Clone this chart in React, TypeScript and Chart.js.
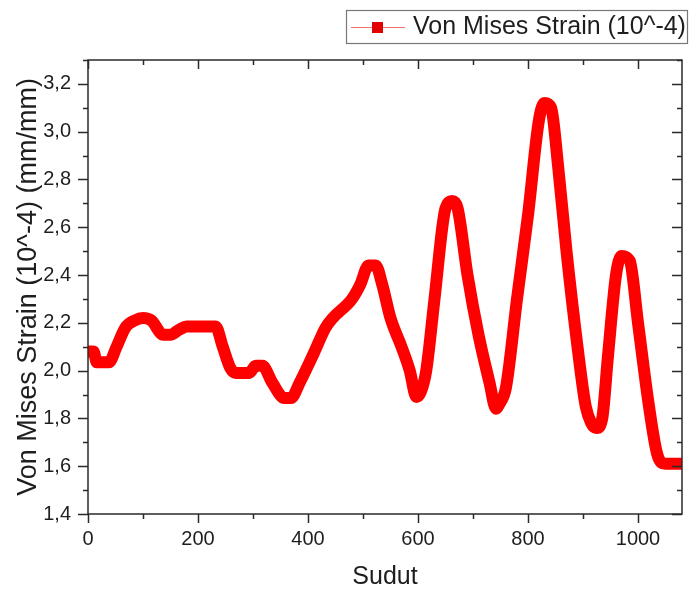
import React, { useEffect, useRef } from 'react';
import { Chart, registerables } from 'chart.js';

Chart.register(...registerables);

const angles = [0, 10, 16, 38, 52, 68, 85, 100, 115, 137, 150, 165, 180, 232, 245, 259, 270, 293, 305, 317, 335, 357, 369, 385, 410, 432, 445, 480, 495, 510, 523, 535, 550, 570, 585, 597, 605, 615, 630, 650, 662, 672, 690, 710, 730, 742, 748, 760, 780, 800, 820, 830, 842, 855, 870, 890, 905, 915, 925, 935, 945, 960, 970, 985, 1000, 1020, 1035, 1050, 1080];
const strain = [2.08, 2.08, 2.035, 2.035, 2.10, 2.18, 2.21, 2.22, 2.21, 2.15, 2.15, 2.17, 2.185, 2.185, 2.10, 2.01, 1.99, 1.99, 2.02, 2.02, 1.95, 1.885, 1.885, 1.95, 2.07, 2.18, 2.22, 2.30, 2.36, 2.44, 2.44, 2.36, 2.22, 2.10, 2.00, 1.89, 1.91, 2.00, 2.30, 2.68, 2.71, 2.68, 2.40, 2.15, 1.95, 1.84, 1.86, 1.93, 2.30, 2.65, 3.05, 3.12, 3.10, 2.85, 2.50, 2.10, 1.85, 1.78, 1.76, 1.80, 2.05, 2.40, 2.48, 2.46, 2.20, 1.85, 1.65, 1.61, 1.61];

const xTicks = [0, 200, 400, 600, 800, 1000];
const xMinorTicks = [100, 300, 500, 700, 900];
const yTicks = [1.4, 1.6, 1.8, 2.0, 2.2, 2.4, 2.6, 2.8, 3.0, 3.2];
const yMinorTicks = [1.5, 1.7, 1.9, 2.1, 2.3, 2.5, 2.7, 2.9, 3.1, 3.3];

const seriesLabel = 'Von Mises Strain (10^-4)';
const xTitle = 'Sudut';
const yTitle = 'Von Mises Strain (10^-4) (mm/mm)';

const FONT = "'Liberation Sans', Arial, sans-serif";
const TEXT = '#1e1e1e';

const framePlugin = {
  id: 'frameAndLegend',
  afterDraw(chart: any) {
    const { ctx, chartArea, scales } = chart;
    const { left, right, top, bottom } = chartArea;
    const x = scales.x;
    const y = scales.y;
    ctx.save();
    ctx.strokeStyle = '#2a2a2a';
    ctx.lineWidth = 1.5;
    ctx.strokeRect(left, top, right - left, bottom - top);
    ctx.beginPath();
    const drawX = (v: number, len: number) => {
      const px = Math.round(x.getPixelForValue(v)) + 0.5;
      ctx.moveTo(px, bottom);
      ctx.lineTo(px, bottom + len);
      ctx.moveTo(px, top);
      ctx.lineTo(px, top + len);
    };
    const drawY = (v: number, len: number) => {
      const py = Math.round(y.getPixelForValue(v)) + 0.5;
      ctx.moveTo(left, py);
      ctx.lineTo(left - len, py);
      ctx.moveTo(right, py);
      ctx.lineTo(right - len, py);
    };
    xTicks.forEach((v) => drawX(v, 9));
    xMinorTicks.forEach((v) => drawX(v, 5));
    yTicks.forEach((v) => drawY(v, 10));
    yMinorTicks.forEach((v) => drawY(v, 5));
    ctx.stroke();

    // legend
    const lx = 346, ly = 10, lw = 341, lh = 33;
    ctx.strokeStyle = '#777';
    ctx.lineWidth = 1.2;
    ctx.strokeRect(lx + 0.5, ly + 0.5, lw, lh);
    const cy = ly + lh / 2 + 1;
    ctx.strokeStyle = '#f07070';
    ctx.lineWidth = 1;
    ctx.beginPath();
    ctx.moveTo(351, cy);
    ctx.lineTo(405, cy);
    ctx.stroke();
    ctx.fillStyle = '#e00000';
    ctx.fillRect(372, cy - 5.5, 11, 11);
    ctx.fillStyle = TEXT;
    ctx.font = `25px ${FONT}`;
    ctx.textBaseline = 'middle';
    ctx.textAlign = 'left';
    ctx.fillText(seriesLabel, 413, cy);
    ctx.restore();
  },
};

export default function App() {
  const ref = useRef<HTMLCanvasElement>(null);
  useEffect(() => {
    document.body.style.margin = '0';
    const chart = new Chart(ref.current as HTMLCanvasElement, {
      type: 'line',
      data: {
        datasets: [
          {
            label: seriesLabel,
            data: angles.map((a, i) => ({ x: a, y: strain[i] })),
            borderColor: '#ff0000',
            backgroundColor: '#ff0000',
            borderWidth: 12,
            pointRadius: 0,
            fill: false,
            cubicInterpolationMode: 'monotone',
            borderJoinStyle: 'round',
            borderCapStyle: 'round',
            clip: 0,
          } as any,
        ],
      },
      options: {
        responsive: false,
        animation: false,
        layout: { padding: { top: 60, right: 7, left: 0, bottom: 0 } },
        plugins: { legend: { display: false }, tooltip: { enabled: false } },
        scales: {
          x: {
            type: 'linear',
            min: 0,
            max: 1080,
            afterBuildTicks: (ax: any) => {
              ax.ticks = xTicks.map((v) => ({ value: v }));
            },
            afterFit: (s: any) => {
              s.height = 76;
            },
            ticks: {
              font: { family: FONT, size: 20 },
              color: TEXT,
              padding: 13,
              maxRotation: 0,
              autoSkip: false,
              callback: (v: any) => String(v),
            },
            grid: { display: false, drawTicks: false },
            border: { display: false },
            title: {
              display: true,
              text: xTitle,
              font: { family: FONT, size: 25, lineHeight: 1 },
              color: TEXT,
              padding: { top: 0, bottom: 0 },
            },
          },
          y: {
            type: 'linear',
            min: 1.4,
            max: 3.3,
            afterBuildTicks: (ax: any) => {
              ax.ticks = yTicks.map((v) => ({ value: v }));
            },
            afterFit: (s: any) => {
              s.width = 88;
            },
            ticks: {
              font: { family: FONT, size: 20 },
              color: TEXT,
              padding: 17,
              autoSkip: false,
              callback: (v: any) => Number(v).toFixed(1).replace('.', ','),
            },
            grid: { display: false, drawTicks: false },
            border: { display: false },
            title: {
              display: true,
              text: yTitle,
              font: { family: FONT, size: 27, lineHeight: 1 },
              color: TEXT,
              padding: { top: 15, bottom: 0 },
            },
          },
        },
      },
      plugins: [framePlugin],
    });
    return () => chart.destroy();
  }, []);
  return (
    <div style={{ width: 689, height: 590 }}>
      <canvas ref={ref} width={689} height={590} />
    </div>
  );
}
